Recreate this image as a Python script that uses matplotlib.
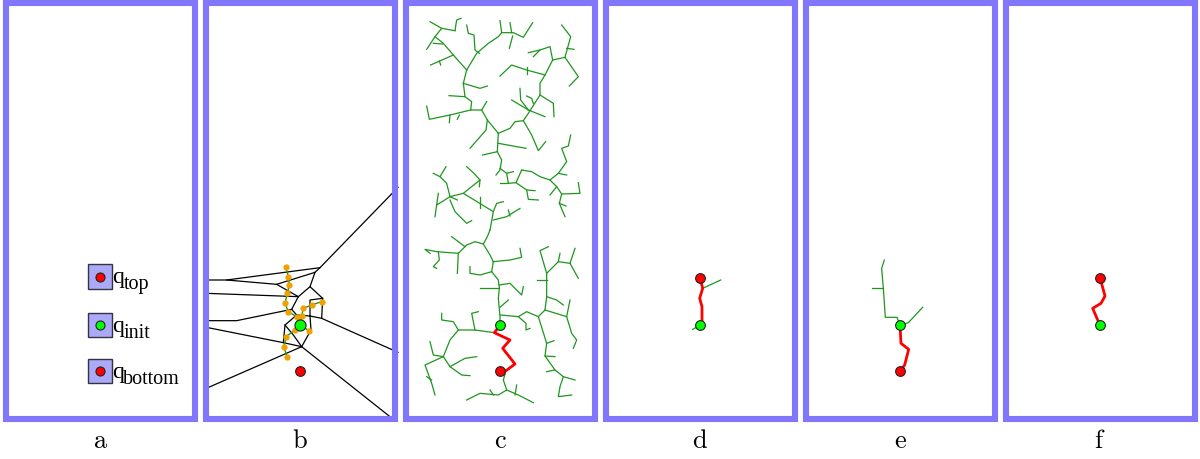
import matplotlib
matplotlib.use("Agg")
import matplotlib.pyplot as plt
from matplotlib.patches import Rectangle

plt.rcParams['mathtext.fontset'] = 'cm'

# every panel uses its own coords in 1/3 pixel, origin at top left of a 200x459 px slot
PANEL_LABELS = ['a', 'b', 'c', 'd', 'e', 'f']
FRAME = (19, 10, 584, 1257)  # left, top, right, bottom

Q_INIT = (300, 976)
Q_TOP = (300, 833)
Q_BOTTOM = (300, 1113)

# panel a: legend boxes
LEGEND_NAMES = ['top', 'init', 'bottom']
LEGEND_Y = [830, 975, 1113]
LEGEND_COLORS = ['red', 'lime', 'red']

# panel b: voronoi edges and the dotted local expansions
VORONOI_B = [
    [(19, 840), (80, 840), (360, 803), (594, 562)],
    [(80, 840), (230, 853), (345, 817), (360, 803)],
    [(345, 817), (330, 860), (368, 895), (365, 955), (594, 1057)],
    [(230, 853), (295, 890), (330, 860)],
    [(19, 880), (295, 890)],
    [(295, 890), (275, 928), (290, 945)],
    [(19, 962), (110, 962), (275, 928)],
    [(19, 982), (250, 1028), (255, 975), (290, 945), (330, 948), (333, 990), (305, 1040)],
    [(19, 1165), (305, 1040), (585, 1262)],
    [(330, 948), (330, 900), (368, 895)],
    [(255, 975), (280, 1005), (305, 1040)],
    [(330, 948), (365, 955)],
    [(250, 1028), (305, 1040)],
]
CHAINS_B = [
    [(258, 802), (265, 830), (268, 855), (262, 880), (255, 910), (265, 935), (290, 950), (300, 976)],
    [(300, 976), (305, 948), (310, 925), (335, 915), (365, 905)],
    [(300, 976), (328, 992)],
    [(300, 976), (285, 990), (258, 1010), (252, 1042), (262, 1072)],
]

# panel c: the grown tree
TREE_C = [
    [(90, 65), (125, 85), (165, 92)],
    [(165, 92), (170, 60), (183, 55)],
    [(125, 85), (105, 110), (80, 148)],
    [(105, 110), (130, 130), (160, 165), (200, 210)],
    [(100, 130), (128, 132)],
    [(160, 165), (92, 195)],
    [(118, 183), (122, 195)],
    [(200, 210), (230, 160), (265, 130), (295, 110), (305, 98), (300, 62)],
    [(305, 98), (340, 98), (370, 112), (398, 68)],
    [(335, 98), (330, 68)],
    [(338, 108), (328, 145)],
    [(200, 75), (205, 100), (222, 105), (225, 150), (238, 160)],
    [(200, 210), (190, 250), (195, 290), (147, 287)],
    [(190, 250), (240, 265), (262, 258)],
    [(195, 290), (215, 305), (212, 330), (245, 330), (260, 305)],
    [(212, 330), (150, 345), (88, 358), (80, 318)],
    [(150, 345), (148, 368)],
    [(178, 345), (172, 358)],
    [(245, 330), (262, 360), (295, 400)],
    [(262, 360), (258, 390), (210, 445)],
    [(295, 400), (292, 455), (248, 465)],
    [(295, 430), (378, 445)],
    [(295, 400), (330, 385), (345, 365), (370, 362), (385, 340), (420, 285), (420, 250),
     (435, 225), (458, 180), (495, 172), (535, 230), (508, 258)],
    [(458, 180), (450, 140), (420, 150), (385, 158)],
    [(420, 150), (400, 170)],
    [(495, 172), (512, 110), (485, 75)],
    [(500, 145), (522, 148)],
    [(435, 225), (380, 210), (335, 195), (300, 228)],
    [(380, 200), (380, 222)],
    [(420, 285), (460, 310), (462, 350)],
    [(385, 330), (435, 350)],
    [(385, 330), (335, 300)],
    [(360, 265), (362, 300), (385, 330)],
    [(380, 288), (395, 295), (400, 310)],
    [(370, 362), (395, 405), (415, 452), (437, 425)],
    [(292, 455), (305, 480), (300, 510), (288, 525)],
    [(300, 505), (320, 520), (340, 515)],
    [(320, 520), (325, 550), (348, 548), (365, 510)],
    [(300, 550), (325, 550)],
    [(348, 548), (380, 570), (385, 598), (415, 600)],
    [(380, 570), (405, 572)],
    [(365, 510), (395, 515), (420, 530), (450, 540), (475, 520), (500, 525)],
    [(450, 540), (470, 560), (485, 582), (540, 580), (535, 548)],
    [(485, 582), (478, 610), (495, 650)],
    [(478, 610), (498, 618)],
    [(470, 560), (450, 585)],
    [(475, 520), (500, 485), (485, 445), (505, 438), (512, 405)],
    [(100, 520), (120, 530), (140, 550), (150, 590), (190, 580), (240, 540)],
    [(120, 530), (138, 500)],
    [(200, 500), (222, 520), (240, 540), (238, 560)],
    [(150, 590), (110, 615), (115, 580)],
    [(110, 615), (105, 650)],
    [(150, 590), (172, 600)],
    [(150, 600), (165, 635), (200, 670), (215, 662)],
    [(190, 580), (280, 635), (290, 610), (310, 605)],
    [(240, 590), (240, 625)],
    [(280, 635), (270, 690)],
    [(280, 660), (320, 650), (360, 625)],
    [(330, 648), (325, 630)],
    [(270, 690), (262, 710), (250, 732), (270, 765), (280, 785)],
    [(250, 732), (225, 725), (200, 735), (175, 760)],
    [(155, 710), (195, 740)],
    [(175, 760), (110, 755), (75, 748), (90, 760)],
    [(115, 755), (118, 780), (100, 800), (110, 805)],
    [(175, 760), (172, 820)],
    [(280, 785), (330, 780), (365, 772), (360, 745)],
    [(280, 785), (275, 815), (240, 825), (210, 820), (210, 800)],
    [(275, 815), (295, 840), (298, 865), (295, 895), (300, 950), (300, 976)],
    [(298, 855), (330, 850), (365, 885), (370, 860)],
    [(298, 865), (240, 865)],
    [(300, 922), (325, 900)],
    [(302, 945), (355, 950), (380, 935), (415, 950), (435, 930), (440, 890), (440, 840),
     (440, 820), (475, 785), (510, 790), (535, 835)],
    [(355, 950), (378, 970), (378, 990), (390, 985)],
    [(440, 840), (410, 840)],
    [(440, 820), (420, 752), (445, 740)],
    [(510, 790), (525, 745)],
    [(475, 785), (480, 760)],
    [(440, 890), (470, 900), (490, 915)],
    [(435, 930), (500, 950), (515, 1000), (530, 1020), (520, 1045)],
    [(500, 950), (510, 900)],
    [(415, 950), (440, 1030), (435, 1068), (465, 1110), (490, 1130), (525, 1140)],
    [(440, 1030), (462, 1022)],
    [(435, 1068), (465, 1070)],
    [(465, 1110), (440, 1115)],
    [(490, 1130), (480, 1160), (475, 1190), (515, 1185)],
    [(283, 998), (225, 990), (175, 990), (150, 1020), (130, 1070), (75, 1095), (95, 1150), (105, 1185)],
    [(225, 990), (215, 940), (235, 935)],
    [(175, 990), (160, 965), (125, 960), (125, 940)],
    [(130, 1070), (150, 1100), (185, 1125), (210, 1127)],
    [(150, 1100), (195, 1075), (230, 1070)],
    [(130, 1070), (100, 1065), (90, 1025)],
    [(80, 1130), (95, 1140)],
    [(318, 1112), (310, 1140), (320, 1170), (295, 1185), (240, 1180), (200, 1200)],
    [(320, 1170), (355, 1185), (400, 1208)],
    [(350, 1155), (345, 1185)],
    [(270, 1170), (280, 1185)],
]
PATH_C = [(300, 976), (283, 998), (330, 1020), (308, 1045), (345, 1092), (318, 1112), (300, 1113)]

# panel d
TREE_D = [
    [(308, 865), (362, 840)],
    [(300, 976), (278, 988)],
]
PATH_D = [(300, 833), (308, 865), (299, 895), (306, 920), (306, 965), (300, 976)]

# panel e
TREE_E = [
    [(300, 976), (291, 952), (256, 952), (250, 865), (245, 805), (253, 780)],
    [(250, 863), (216, 863)],
    [(300, 976), (325, 968), (368, 922)],
]
PATH_E = [(300, 976), (303, 1030), (326, 1048), (314, 1095), (300, 1113)]

# panel f
PATH_F = [(300, 833), (315, 888), (303, 910), (278, 925), (300, 976)]

FRAME_COLOR = '#8276fa'
TREE_COLOR = '#1e961e'


def polyline(ax, pts, **kw):
    xs = [p[0] for p in pts]
    ys = [p[1] for p in pts]
    ax.plot(xs, ys, **kw)


def point(ax, xy, color, size=7):
    ax.plot(xy[0], xy[1], 'o', color=color, markersize=size,
            markeredgecolor='#222222', markeredgewidth=0.8, zorder=5)


fig = plt.figure(figsize=(12, 4.59), dpi=100)
axes = []
for i, lab in enumerate(PANEL_LABELS):
    ax = fig.add_axes([i / 6, 0, 1 / 6, 1])
    ax.set_xlim(0, 600)
    ax.set_ylim(1377, 0)
    ax.axis('off')
    l, t, r, b = FRAME
    ax.add_patch(Rectangle((l, t), r - l, b - t, fill=False, edgecolor=FRAME_COLOR,
                           linewidth=4.4, zorder=10, joinstyle='miter'))
    ax.text(300, 1323, r'$\mathrm{%s}$' % lab, fontsize=19, ha='center', va='center')
    axes.append(ax)

# a
ax = axes[0]
for name, y, col in zip(LEGEND_NAMES, LEGEND_Y, LEGEND_COLORS):
    ax.add_patch(Rectangle((263, y - 37), 74, 74, facecolor='#aaaaf8',
                           edgecolor='#333344', linewidth=1.0))
    point(ax, (300, y), col, 6.5)
    ax.text(336, y + 20, 'q', fontsize=17, family='Liberation Serif',
            ha='left', va='baseline')
    ax.text(370, y + 38, name, fontsize=14.5, family='Liberation Serif',
            ha='left', va='baseline')

# b
ax = axes[1]
for edge in VORONOI_B:
    polyline(ax, edge, color='black', linewidth=0.9, zorder=2)
for ch in CHAINS_B:
    polyline(ax, ch, color=TREE_COLOR, linewidth=1.0, zorder=3)
    polyline(ax, ch[1:] if ch[0] == Q_INIT else ch[:-1], color='#f0a000', linestyle='none',
             marker='o', markersize=3.5, zorder=4)
point(ax, Q_INIT, 'lime', 8)
point(ax, Q_BOTTOM, 'red', 7)

# c
ax = axes[2]
for br in TREE_C:
    polyline(ax, br, color=TREE_COLOR, linewidth=0.9, zorder=2)
polyline(ax, PATH_C, color='red', linewidth=2.0, zorder=3)
point(ax, Q_INIT, 'lime')
point(ax, Q_BOTTOM, 'red')

# d
ax = axes[3]
for br in TREE_D:
    polyline(ax, br, color=TREE_COLOR, linewidth=0.9, zorder=2)
polyline(ax, PATH_D, color='red', linewidth=2.0, zorder=3)
point(ax, Q_TOP, 'red')
point(ax, Q_INIT, 'lime')

# e
ax = axes[4]
for br in TREE_E:
    polyline(ax, br, color=TREE_COLOR, linewidth=0.9, zorder=2)
polyline(ax, PATH_E, color='red', linewidth=2.0, zorder=3)
point(ax, Q_INIT, 'lime')
point(ax, Q_BOTTOM, 'red')

# f
ax = axes[5]
polyline(ax, PATH_F, color='red', linewidth=2.0, zorder=3)
point(ax, Q_TOP, 'red')
point(ax, Q_INIT, 'lime')

fig.savefig('out.png', dpi=100)
